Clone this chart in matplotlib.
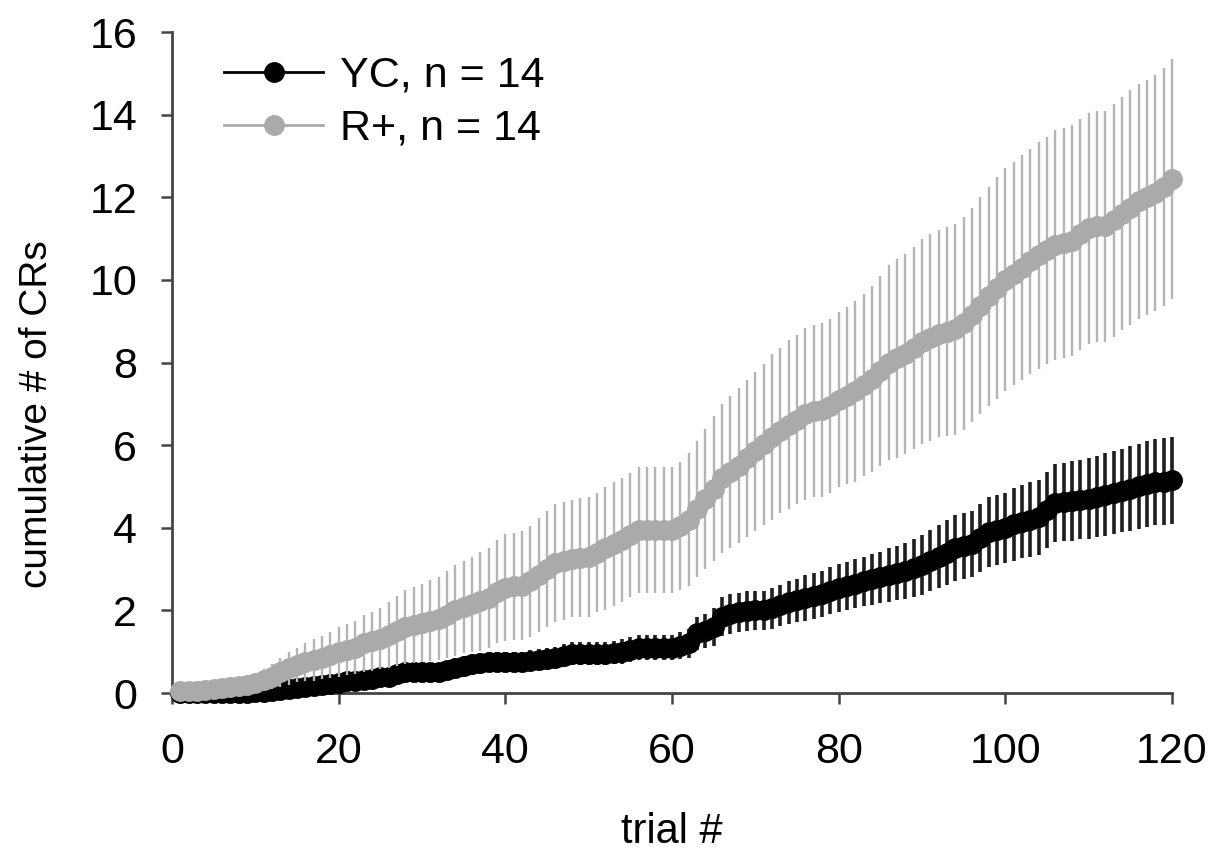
import numpy as np
import matplotlib.pyplot as plt

# trials 1..120
trials = np.arange(1, 121)

# R+ group, mean cumulative CRs and SEM per trial
rplus_mean = [
    0.05, 0.05, 0.05, 0.08, 0.1, 0.12, 0.15, 0.18, 0.2, 0.25,
    0.32, 0.4, 0.5, 0.6, 0.68, 0.75, 0.8, 0.85, 0.92, 1.0,
    1.05, 1.1, 1.2, 1.25, 1.32, 1.4, 1.5, 1.6, 1.65, 1.7,
    1.75, 1.8, 1.9, 2.0, 2.08, 2.15, 2.22, 2.3, 2.45, 2.55,
    2.58, 2.6, 2.7, 2.85, 3.0, 3.15, 3.2, 3.25, 3.28, 3.3,
    3.4, 3.5, 3.6, 3.7, 3.82, 3.95, 3.95, 3.95, 3.95, 3.95,
    4.05, 4.2, 4.45, 4.7, 4.95, 5.2, 5.35, 5.5, 5.68, 5.85,
    6.02, 6.2, 6.35, 6.5, 6.62, 6.75, 6.82, 6.85, 6.95, 7.1,
    7.2, 7.3, 7.45, 7.6, 7.8, 8.0, 8.1, 8.2, 8.35, 8.5,
    8.6, 8.7, 8.75, 8.8, 8.95, 9.15, 9.38, 9.6, 9.8, 10.0,
    10.15, 10.3, 10.45, 10.6, 10.72, 10.85, 10.9, 10.95, 11.1, 11.25,
    11.3, 11.3, 11.45, 11.6, 11.75, 11.9, 12.0, 12.1, 12.25, 12.45,
]
rplus_sem = [
    0.05, 0.05, 0.05, 0.08, 0.1, 0.12, 0.15, 0.15, 0.18, 0.2,
    0.25, 0.3, 0.35, 0.4, 0.42, 0.45, 0.5, 0.52, 0.55, 0.6,
    0.62, 0.65, 0.7, 0.72, 0.75, 0.8, 0.85, 0.9, 0.92, 0.95,
    0.98, 1.0, 1.05, 1.1, 1.12, 1.15, 1.2, 1.22, 1.25, 1.3,
    1.3, 1.32, 1.35, 1.38, 1.4, 1.42, 1.42, 1.42, 1.45, 1.45,
    1.45, 1.48, 1.5, 1.5, 1.5, 1.52, 1.52, 1.52, 1.52, 1.52,
    1.55, 1.6, 1.65, 1.7, 1.75, 1.8, 1.85, 1.88, 1.9, 1.92,
    1.95, 2.0, 2.0, 2.05, 2.05, 2.08, 2.08, 2.1, 2.1, 2.12,
    2.15, 2.18, 2.2, 2.25, 2.3, 2.35, 2.4, 2.42, 2.45, 2.48,
    2.5, 2.5, 2.52, 2.55, 2.58, 2.6, 2.62, 2.65, 2.68, 2.7,
    2.7, 2.72, 2.72, 2.75, 2.75, 2.78, 2.78, 2.8, 2.8, 2.8,
    2.8, 2.8, 2.82, 2.82, 2.85, 2.85, 2.85, 2.85, 2.88, 2.9,
]

# YC group
yc_mean = [
    0, 0, 0, 0, 0, 0, 0, 0, 0.01, 0.02,
    0.03, 0.05, 0.07, 0.1, 0.12, 0.15, 0.18, 0.2, 0.22, 0.25,
    0.28, 0.3, 0.32, 0.35, 0.38, 0.4, 0.45, 0.5, 0.5, 0.5,
    0.5, 0.5, 0.55, 0.6, 0.65, 0.7, 0.72, 0.75, 0.75, 0.75,
    0.75, 0.75, 0.78, 0.8, 0.82, 0.85, 0.9, 0.95, 0.95, 0.95,
    0.95, 0.95, 0.98, 1.0, 1.05, 1.1, 1.1, 1.1, 1.1, 1.1,
    1.15, 1.2, 1.45, 1.5, 1.6, 1.85, 1.92, 1.95, 1.98, 2.0,
    2.0, 2.05, 2.12, 2.2, 2.25, 2.3, 2.35, 2.4, 2.48, 2.55,
    2.6, 2.65, 2.7, 2.75, 2.8, 2.85, 2.9, 2.95, 3.02, 3.1,
    3.2, 3.3, 3.4, 3.5, 3.55, 3.6, 3.75, 3.9, 3.95, 4.0,
    4.08, 4.15, 4.2, 4.25, 4.42, 4.6, 4.62, 4.65, 4.68, 4.7,
    4.75, 4.8, 4.85, 4.9, 4.95, 5.0, 5.05, 5.1, 5.12, 5.15,
]
yc_sem = [
    0, 0, 0, 0, 0, 0, 0, 0, 0.01, 0.02,
    0.03, 0.05, 0.07, 0.1, 0.1, 0.12, 0.13, 0.14, 0.15, 0.15,
    0.16, 0.17, 0.18, 0.19, 0.2, 0.2, 0.21, 0.22, 0.22, 0.22,
    0.22, 0.22, 0.23, 0.24, 0.25, 0.25, 0.25, 0.25, 0.25, 0.25,
    0.25, 0.25, 0.25, 0.26, 0.26, 0.27, 0.28, 0.28, 0.28, 0.28,
    0.28, 0.28, 0.28, 0.3, 0.3, 0.3, 0.3, 0.3, 0.3, 0.3,
    0.32, 0.35, 0.4, 0.42, 0.45, 0.48, 0.48, 0.48, 0.48, 0.48,
    0.48, 0.5, 0.5, 0.52, 0.52, 0.55, 0.55, 0.55, 0.56, 0.58,
    0.58, 0.6, 0.6, 0.62, 0.62, 0.65, 0.65, 0.68, 0.7, 0.72,
    0.74, 0.76, 0.78, 0.8, 0.8, 0.8, 0.82, 0.85, 0.85, 0.85,
    0.88, 0.88, 0.9, 0.9, 0.92, 0.95, 0.95, 0.96, 0.96, 0.98,
    0.98, 1.0, 1.0, 1.0, 1.02, 1.02, 1.04, 1.04, 1.05, 1.05,
]

labels = ["YC, n = 14", "R+, n = 14"]
xticks = [0, 20, 40, 60, 80, 100, 120]
yticks = [0, 2, 4, 6, 8, 10, 12, 14, 16]

plt.rcParams['font.family'] = ['Liberation Sans', 'DejaVu Sans']

fig = plt.figure(figsize=(12.24, 8.59), dpi=100)
ax = fig.add_axes([0.1405, 0.1932, 0.817, 0.7695])

# YC (black)
ax.errorbar(trials, yc_mean, yerr=yc_sem, fmt='none', ecolor='#1e1e1e',
            elinewidth=2.6, capsize=0, zorder=2, clip_on=False)
ax.plot(trials, yc_mean, color='black', lw=2, marker='o', ms=14,
        mec='black', mfc='black', label=labels[0], zorder=3, clip_on=False)

# R+ (grey)
ax.errorbar(trials, rplus_mean, yerr=rplus_sem, fmt='none', ecolor='#b4b4b4',
            elinewidth=1.7, capsize=0, zorder=4, clip_on=False)
ax.plot(trials, rplus_mean, color='#aaaaaa', lw=2, marker='o', ms=14,
        mec='#aaaaaa', mfc='#aaaaaa', label=labels[1], zorder=5, clip_on=False)

ax.set_xlim(0, 120)
ax.set_ylim(0, 16)
ax.set_xticks(xticks)
ax.set_yticks(yticks)

for side in ['top', 'right']:
    ax.spines[side].set_visible(False)
for side in ['left', 'bottom']:
    ax.spines[side].set_color('#444444')
    ax.spines[side].set_linewidth(2)

ax.tick_params(axis='both', direction='out', length=8, width=1.8,
               color='#444444', labelsize=31)
ax.tick_params(axis='x', pad=20)
ax.tick_params(axis='y', pad=17)

fig.text(0.549, 0.008, "trial #", fontsize=30, ha='center', va='bottom')
fig.text(0.030, 0.518, "cumulative # of CRs", fontsize=28, rotation=90,
         ha='center', va='center')

leg = ax.legend(loc='upper left', bbox_to_anchor=(0.035, 0.99), frameon=False,
                fontsize=31, handlelength=2.3, handletextpad=0.4,
                labelspacing=0.3, borderaxespad=0)

fig.savefig("out.png", dpi=100)
